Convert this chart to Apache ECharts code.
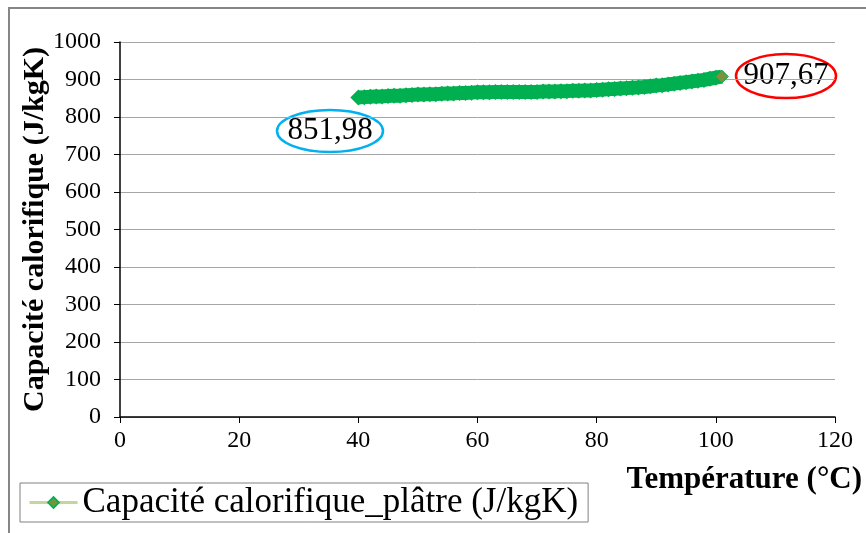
<!DOCTYPE html>
<html>
<head>
<meta charset="utf-8">
<style>
  html, body { margin: 0; padding: 0; background: #fff; }
  #chart { width: 866px; height: 533px; }
</style>
<script src="https://cdn.jsdelivr.net/npm/echarts@6/dist/echarts.min.js"></script>
</head>
<body>
<div id="chart"></div>
<script>
// temperatures (°C) et capacité calorifique
var temperatures = [40, 41, 42, 43, 44, 45, 46, 47, 48, 49, 50, 51, 52, 53, 54, 55, 56, 57, 58, 59,
  60, 61, 62, 63, 64, 65, 66, 67, 68, 69, 70, 71, 72, 73, 74, 75, 76, 77, 78, 79,
  80, 81, 82, 83, 84, 85, 86, 87, 88, 89, 90, 91, 92, 93, 94, 95, 96, 97, 98, 99, 100, 101];
var capacite = [852, 853, 854, 855, 855, 856, 857, 857, 858, 859, 860, 860, 861, 861, 862, 863, 863, 864, 864, 865,
  866, 866, 866, 867, 867, 867, 867, 867, 867, 867, 867, 868, 868, 868, 869, 869, 870, 870, 871, 871,
  872, 873, 874, 875, 876, 877, 878, 879, 880, 882, 884, 885, 887, 889, 891, 893, 895, 897, 899, 902, 905, 907.67];
var nomSerie = 'Capacité calorifique_plâtre (J/kgK)';
var annotations = ['851,98', '907,67'];

var points = temperatures.map(function (t, i) {
  var p = { value: [t, capacite[i]] };
  if (i === temperatures.length - 1) {
    p.itemStyle = { color: '#77933C', borderColor: '#00B050', borderWidth: 1 };
    p.symbolSize = 13;
  }
  return p;
});

var myChart = echarts.init(document.getElementById('chart'));// initialiser echarts

var serif = '"Liberation Serif", "DejaVu Serif", serif';

myChart.setOption({
  animation: false,
  textStyle: { fontFamily: serif, color: '#000' },
  grid: { left: 120, right: 31, top: 42, bottom: 116 },
  xAxis: {
    type: 'value', min: 0, max: 120, interval: 20,
    axisLine: { show: true, lineStyle: { color: '#000', width: 1.5 } },
    axisTick: { show: true, inside: false, length: 6, lineStyle: { color: '#000' } },
    splitLine: { show: false },
    axisLabel: { fontSize: 24, color: '#000', fontFamily: serif, margin: 12 }
  },
  yAxis: {
    type: 'value', min: 0, max: 1000, interval: 100,
    name: 'Capacité calorifique (J/kgK)', nameLocation: 'middle', nameGap: 70,
    nameMoveOverlap: false,
    nameTextStyle: { fontSize: 30, fontWeight: 'bold', color: '#000', fontFamily: serif },
    axisLine: { show: true, lineStyle: { color: '#000', width: 1.5 } },
    axisTick: { show: true, inside: false, length: 6, lineStyle: { color: '#000' } },
    splitLine: { show: true, lineStyle: { color: '#A6A6A6', width: 1 } },
    axisLabel: { fontSize: 24, color: '#000', fontFamily: serif, margin: 19,
      formatter: function (v) { return String(v); } }
  },
  legend: {
    left: 20, top: 483, padding: [2, 10, 2, 8],
    borderColor: '#808080', borderWidth: 1,
    itemWidth: 48, itemHeight: 14, itemGap: 5,
    textStyle: { fontSize: 35, color: '#000', fontFamily: serif },
    data: [{
      name: nomSerie,
      itemStyle: { color: '#77933C', borderColor: '#00B050', borderWidth: 1.5 },
      lineStyle: { color: '#C3D69B', width: 3 }
    }]
  },
  series: [{
    name: nomSerie,
    type: 'line',
    data: points,
    showAllSymbol: true,
    symbol: 'diamond',
    symbolSize: 16,
    itemStyle: { color: '#00B050' },
    lineStyle: { color: '#00B050', width: 14 },
    z: 3
  }],
  graphic: [
    { type: 'rect', shape: { x: 9, y: 8, width: 900, height: 600 },
      style: { fill: 'none', stroke: '#868686', lineWidth: 2 }, silent: true },
    { type: 'ellipse', shape: { cx: 330, cy: 131, rx: 53, ry: 21 },
      style: { fill: 'none', stroke: '#00B0F0', lineWidth: 2.5 } },
    { type: 'text', x: 330, y: 131,
      style: { text: annotations[0], font: '31px ' + serif, fill: '#000', align: 'center', verticalAlign: 'middle' } },
    { type: 'ellipse', shape: { cx: 786, cy: 76, rx: 50, ry: 22 },
      style: { fill: 'none', stroke: '#FF0000', lineWidth: 2.5 } },
    { type: 'text', x: 786, y: 76,
      style: { text: annotations[1], font: '31px ' + serif, fill: '#000', align: 'center', verticalAlign: 'middle' } },
    { type: 'text', x: 862, y: 480,
      style: { text: 'Température (°C)', font: 'bold 31px ' + serif, fill: '#000', align: 'right', verticalAlign: 'middle' } }
  ]
});

window.onresize = function () {
  myChart.resize();
};
</script>
</body>
</html>
